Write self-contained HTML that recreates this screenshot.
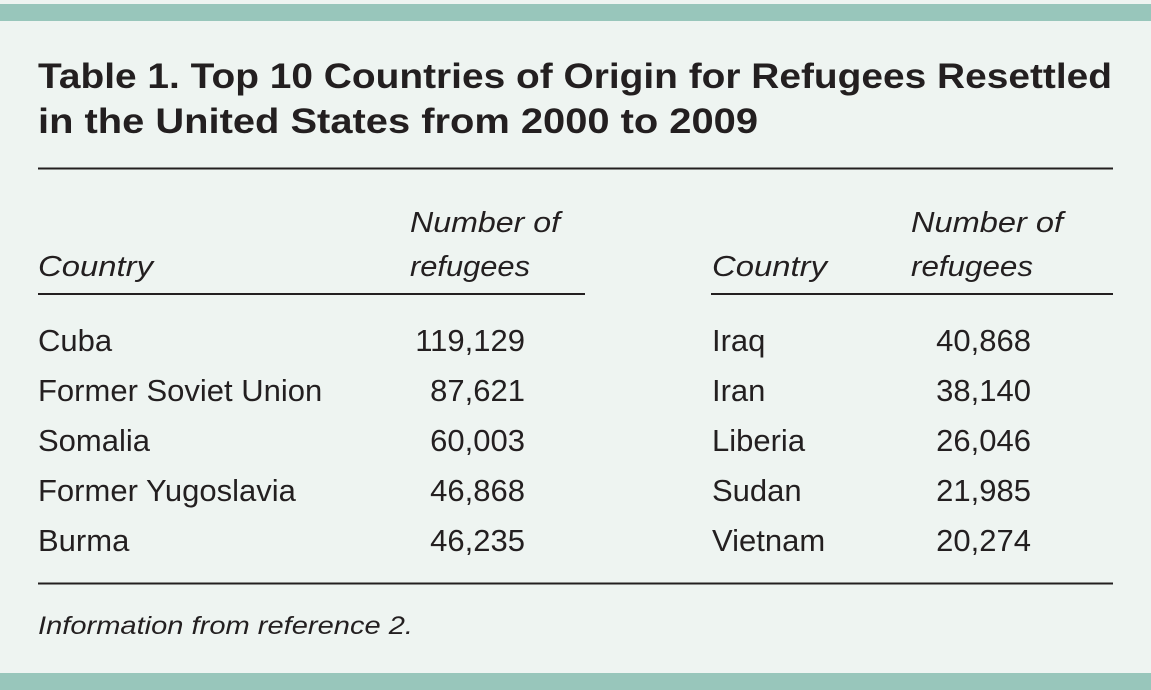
<!DOCTYPE html>
<html><head><meta charset="utf-8"><style>
html,body{margin:0;padding:0;background:#fff}
svg{display:block}
text{font-family:"Liberation Sans",sans-serif;fill:#231f20}
.t{font-weight:bold;font-size:35px}
.h{font-style:italic;font-size:29px}
.r{font-size:31px}
.f{font-style:italic;font-size:25px}
</style></head><body>
<svg width="1151" height="690">
<rect x="0" y="0" width="1151" height="690" fill="#eef4f1"/>
<rect x="0" y="4" width="1151" height="17" fill="#98c6bb"/>
<rect x="0" y="673" width="1151" height="17" fill="#98c6bb"/>
<text class="t" x="38" y="88" textLength="1074" lengthAdjust="spacingAndGlyphs">Table 1. Top 10 Countries of Origin for Refugees Resettled</text>
<text class="t" x="38" y="133" textLength="720" lengthAdjust="spacingAndGlyphs">in the United States from 2000 to 2009</text>
<line x1="38" x2="1113" y1="168.5" y2="168.5" stroke="#231f20" stroke-width="2"/>
<text class="h" x="38" y="276" textLength="115" lengthAdjust="spacingAndGlyphs">Country</text>
<text class="h" x="410" y="232" textLength="150" lengthAdjust="spacingAndGlyphs">Number of</text>
<text class="h" x="410" y="276" textLength="120" lengthAdjust="spacingAndGlyphs">refugees</text>
<text class="h" x="712" y="276" textLength="115" lengthAdjust="spacingAndGlyphs">Country</text>
<text class="h" x="911" y="232" textLength="152" lengthAdjust="spacingAndGlyphs">Number of</text>
<text class="h" x="911" y="276" textLength="122" lengthAdjust="spacingAndGlyphs">refugees</text>
<line x1="38" x2="585" y1="294" y2="294" stroke="#231f20" stroke-width="2"/>
<line x1="711" x2="1113" y1="294" y2="294" stroke="#231f20" stroke-width="2"/>
<g id="rows"></g>
<line x1="38" x2="1113" y1="583.5" y2="583.5" stroke="#231f20" stroke-width="2"/>
<text class="f" x="38" y="634" textLength="375" lengthAdjust="spacingAndGlyphs">Information from reference 2.</text>
</svg>
<script>
const leftCountries=["Cuba","Former Soviet Union","Somalia","Former Yugoslavia","Burma"];
const leftValues=["119,129","87,621","60,003","46,868","46,235"];
const rightCountries=["Iraq","Iran","Liberia","Sudan","Vietnam"];
const rightValues=["40,868","38,140","26,046","21,985","20,274"];
const g=document.getElementById('rows');
const NS="http://www.w3.org/2000/svg";
function txt(x,y,s,anchor){const t=document.createElementNS(NS,'text');t.setAttribute('x',x);t.setAttribute('y',y);t.setAttribute('class','r');if(anchor)t.setAttribute('text-anchor',anchor);t.textContent=s;g.appendChild(t);return t;}
for(let i=0;i<5;i++){
 const y=351+i*50;
 let a=txt(38,y,leftCountries[i]);
 
 
 let b=txt(525,y,leftValues[i],'end');
 
 
 let c=txt(712,y,rightCountries[i]);
 
 
 let d=txt(1031,y,rightValues[i],'end');
 
 
}
</script>
</body></html>
